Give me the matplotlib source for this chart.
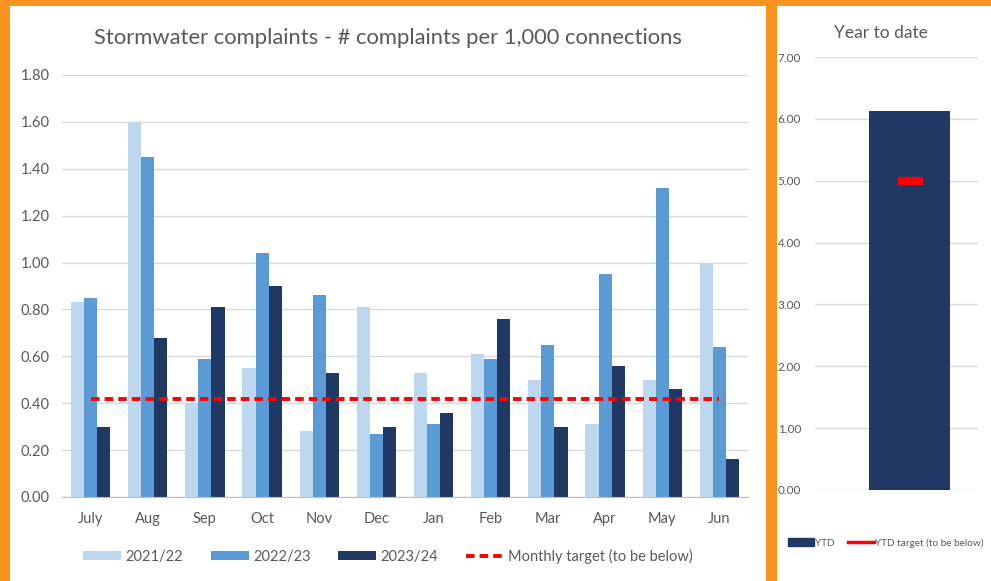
#!/usr/bin/env python
# coding: utf-8

import numpy as np
import matplotlib
matplotlib.use('Agg')
from matplotlib import pyplot as plt
from matplotlib.patches import Rectangle

months = ['July', 'Aug', 'Sep', 'Oct', 'Nov', 'Dec', 'Jan', 'Feb', 'Mar', 'Apr', 'May', 'Jun']
fy2122 = [0.83, 1.60, 0.40, 0.55, 0.28, 0.81, 0.53, 0.61, 0.50, 0.31, 0.50, 1.00]
fy2223 = [0.85, 1.45, 0.59, 1.04, 0.86, 0.27, 0.31, 0.59, 0.65, 0.95, 1.32, 0.64]
fy2324 = [0.30, 0.68, 0.81, 0.90, 0.53, 0.30, 0.36, 0.76, 0.30, 0.56, 0.46, 0.16]
monthly_target = 0.417
ytd_value = 6.13
ytd_target = 5.0

LIGHT = '#BDD7EE'
MID = '#5B9BD5'
DARK = '#203864'
RED = '#FF0000'
ORANGE = '#F7931E'
TXT = '#595959'
GRID = '#D9D9D9'

plt.rcParams['font.family'] = ['Lato', 'DejaVu Sans']

W, H = 991, 581
fig = plt.figure(figsize=(W / 100, H / 100), dpi=100, facecolor=ORANGE)


def fx(px):
    return px / W


def fy(py):
    return 1 - py / H


# white panels behind everything
fig.patches.append(Rectangle((fx(10), 0), fx(766) - fx(10), fy(6), transform=fig.transFigure,
                             facecolor='white', edgecolor='none', zorder=-10))
fig.patches.append(Rectangle((fx(777), 0), 1 - fx(777), fy(6), transform=fig.transFigure,
                             facecolor='white', edgecolor='none', zorder=-10))

# ---- monthly chart
ax = fig.add_axes([fx(62), fy(497), fx(748) - fx(62), fy(75) - fy(497)])
ax.set_facecolor('none')
x = np.arange(len(months))
bw = 0.23
b1 = ax.bar(x - bw, fy2122, bw, color=LIGHT, label='2021/22', zorder=2)
b2 = ax.bar(x, fy2223, bw, color=MID, label='2022/23', zorder=2)
b3 = ax.bar(x + bw, fy2324, bw, color=DARK, label='2023/24', zorder=2)
tl, = ax.plot([x[0], x[-1]], [monthly_target, monthly_target], color=RED, lw=2.8,
              ls=(0, (2.2, 1.3)), label='Monthly target (to be below)', zorder=3)
ax.set_xlim(-0.5, len(months) - 0.5)
ax.set_ylim(0, 1.8)
yt = np.arange(0, 1.81, 0.2)
ax.set_yticks(yt)
ax.set_yticklabels([f'{v:.2f}' for v in yt])
ax.set_xticks(x)
ax.set_xticklabels(months)
ax.grid(axis='y', color=GRID, lw=1, zorder=0)
ax.set_axisbelow(True)
for s in ['top', 'right', 'left']:
    ax.spines[s].set_visible(False)
ax.spines['bottom'].set_color('#BFBFBF')
ax.tick_params(length=0, labelsize=10.5, colors=TXT)
ax.tick_params(axis='y', pad=9)
ax.tick_params(axis='x', pad=11)
fig.text(fx(388), fy(38), 'Stormwater complaints - # complaints per 1,000 connections',
         ha='center', va='center', fontsize=15.8, color=TXT)
fig.legend([b1, b2, b3, tl], ['2021/22', '2022/23', '2023/24', 'Monthly target (to be below)'],
           loc='center', bbox_to_anchor=(fx(388), fy(556)),
           ncol=4, frameon=False, fontsize=10.5, labelcolor=TXT, handlelength=2.6,
           handleheight=0.5, handletextpad=0.3, columnspacing=1.9)

# ---- year to date chart
ax2 = fig.add_axes([fx(815), fy(490), fx(978) - fx(815), fy(57) - fy(490)])
ax2.set_facecolor('none')
ax2.bar([0], [ytd_value], 0.5, color=DARK, label='YTD', zorder=2)
ax2.plot([0], [ytd_target], marker='_', ms=18, mew=6, color=RED, ls='none', zorder=3)
ax2.set_xlim(-0.58, 0.42)
ax2.set_ylim(0, 7)
ax2.set_yticks(range(8))
ax2.set_yticklabels([f'{v:.2f}' for v in range(8)])
ax2.set_xticks([])
ax2.grid(axis='y', color=GRID, lw=1, zorder=0)
ax2.set_axisbelow(True)
for s in ['top', 'right', 'left', 'bottom']:
    ax2.spines[s].set_visible(False)
ax2.tick_params(length=0, labelsize=8.5, colors=TXT, pad=10)
fig.text(fx(881), fy(33), 'Year to date', ha='center', va='center', fontsize=12.5, color=TXT)
tgt_handle = plt.Line2D([], [], color=RED, lw=2.5)
bar_handle = Rectangle((0, 0), 1, 1, color=DARK)
fig.legend([bar_handle, tgt_handle], ['YTD', 'YTD target (to be below)'], loc='center',
           bbox_to_anchor=(fx(886), fy(543)), ncol=2, frameon=False, fontsize=7.2,
           labelcolor=TXT, handlelength=2.6, handleheight=0.8, handletextpad=0.1,
           columnspacing=1.3, borderpad=0.1)

fig.savefig('out.png', dpi=100, facecolor=ORANGE)
